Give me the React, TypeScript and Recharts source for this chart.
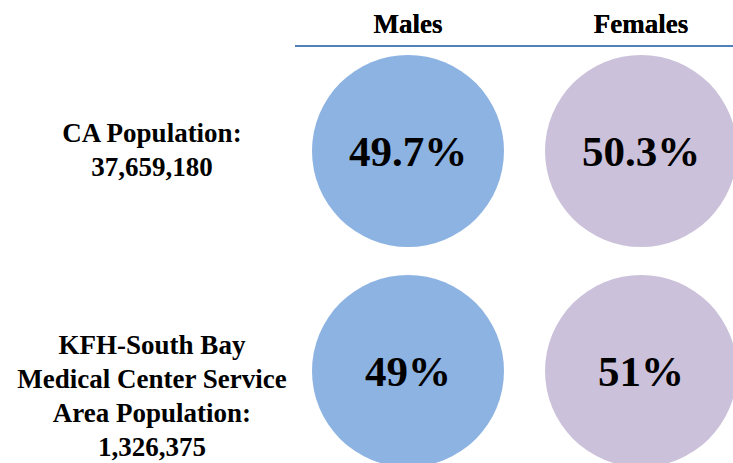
import { ScatterChart, Scatter, XAxis, YAxis } from "recharts";

const sexes = ["Males", "Females"];
const populations = ["CA", "KFH"];
const populationLabels = [
  ["CA Population:", "37,659,180"],
  ["KFH-South Bay", "Medical Center Service", "Area Population:", "1,326,375"],
];
const malesPct = [49.7, 49];
const femalesPct = [50.3, 51];
const sexColors = ["#8DB3E2", "#CCC1DA"];

const FONT = '"Liberation Serif", "Times New Roman", serif';

const maleData = populations.map((p, i) => ({ sex: sexes[0], pop: p, value: malesPct[i] }));
const femaleData = populations.map((p, i) => ({ sex: sexes[1], pop: p, value: femalesPct[i] }));

const makeBubble = (fill: string) => (props: any) => {
  const { cx, cy, payload } = props;
  return (
    <g>
      <circle cx={cx} cy={cy} r={96} fill={fill} />
      <text
        x={cx}
        y={cy}
        dy={15}
        textAnchor="middle"
        fontFamily={FONT}
        fontWeight="bold"
        fontSize={43}
        fill="#000"
      >
        {`${payload.value}%`}
      </text>
    </g>
  );
};

const SexTick = (props: any) => {
  const { x, payload } = props;
  return (
    <text x={x} y={33} textAnchor="middle" fontFamily={FONT} fontWeight="bold" fontSize={27} fill="#000">
      {payload.value}
    </text>
  );
};

// multi-line row label, left of the bubbles
const PopTick = (props: any) => {
  const { y, payload } = props;
  const lines = populationLabels[populations.indexOf(payload.value)] || [];
  const first = y - 9 - (lines.length - 2) * 4;
  return (
    <text textAnchor="middle" fontFamily={FONT} fontWeight="bold" fontSize={27} fill="#000">
      {lines.map((line, i) => (
        <tspan key={i} x={152} y={first + i * 34}>
          {line}
        </tspan>
      ))}
    </text>
  );
};

export default function App() {
  return (
    <div style={{ position: "absolute", left: 0, top: 0, background: "#fff" }}>
      <ScatterChart width={733} height={463} margin={{ top: 0, right: 0, bottom: 0, left: 0 }}>
        <XAxis
          dataKey="sex"
          type="category"
          allowDuplicatedCategory={false}
          orientation="top"
          height={46}
          scale="point"
          padding={{ left: 113, right: 92 }}
          axisLine={{ stroke: "#4F81BD", strokeWidth: 2 }}
          tickLine={false}
          tick={SexTick}
        />
        <YAxis
          dataKey="pop"
          type="category"
          allowDuplicatedCategory={false}
          reversed
          width={295}
          scale="point"
          padding={{ top: 105, bottom: 92 }}
          axisLine={false}
          tickLine={false}
          tick={PopTick}
        />
        <Scatter data={maleData} fill={sexColors[0]} shape={makeBubble(sexColors[0])} isAnimationActive={false} />
        <Scatter data={femaleData} fill={sexColors[1]} shape={makeBubble(sexColors[1])} isAnimationActive={false} />
      </ScatterChart>
    </div>
  );
}
